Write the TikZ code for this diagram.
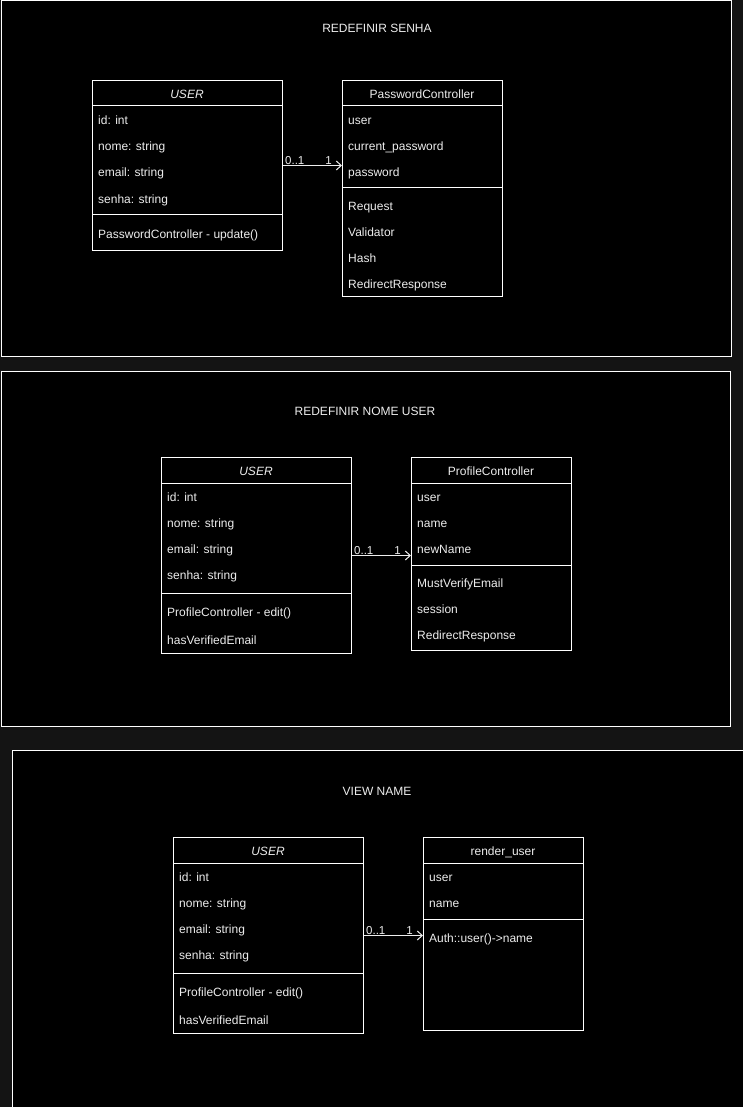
\documentclass[tikz,border=0pt]{standalone}
\usepackage{fontspec}
\setmainfont{Liberation Sans}
\usetikzlibrary{arrows.meta}
\definecolor{pagebg}{HTML}{141414}
\definecolor{ink}{HTML}{EDEDED}
\tikzset{
  panel/.style={draw=white, fill=black, line width=1pt},
  classbox/.style={draw=white, fill=black, line width=1pt, anchor=north west, inner sep=0pt},
  rule/.style={draw=white, line width=1pt},
  title/.style={text=ink, font=\fontsize{12}{14}\selectfont, inner sep=0pt},
  cname/.style={text=ink, font=\fontsize{12}{14}\selectfont, inner sep=0pt, text height=8.6pt, text depth=0pt, yshift=-0.8pt},
  attr/.style={text=ink, font=\fontsize{12}{14}\selectfont, anchor=west, inner sep=0pt, text height=8.6pt, text depth=0pt, yshift=-0.8pt},
  mult/.style={text=ink, font=\fontsize{11.5}{13}\selectfont, inner sep=0pt},
  assoc/.style={draw=ink, line width=1pt, -{Straight Barb[length=5pt,width=9pt]}},
}
\begin{document}
\begin{tikzpicture}[x=1pt,y=-1pt]
\useasboundingbox (0,0) rectangle (743,1107);
\fill[pagebg] (0,0) rectangle (743,1107);

% ---------- panels ----------
\draw[panel] (1,1) rectangle (731,356);
\draw[panel] (1,371) rectangle (730,726);
\draw[panel] (12,750) rectangle (745,1112);

% ================= REDEFINIR SENHA =================
\node[title] (t1) at (377,28) {REDEFINIR SENHA};

\node[classbox, minimum width=190pt, minimum height=170pt] (u1) at (92,80) {};
\draw[rule] (u1.north west) ++(0,26) -- ++(190,0);
\draw[rule] (u1.north west) ++(0,135) -- ++(190,0);
\node[cname] (u1n) at (187,93) {\itshape USER};
\node[attr] (u1a) at (98,119) {id: int};
\node[attr] (u1b) at (98,145) {nome: string};
\node[attr] (u1c) at (98,171) {email: string};
\node[attr] (u1d) at (98,198) {senha: string};
\node[attr] (u1m) at (98,233) {PasswordController - update()};

\node[classbox, minimum width=160pt, minimum height=216pt] (p1) at (342,80) {};
\draw[rule] (p1.north west) ++(0,26) -- ++(160,0);
\draw[rule] (p1.north west) ++(0,108) -- ++(160,0);
\node[cname] (p1n) at (422,93) {PasswordController};
\node[attr] (p1a) at (348,119) {user};
\node[attr] (p1b) at (348,145) {current\_password};
\node[attr] (p1c) at (348,171) {password};
\node[attr] (p1d) at (348,205) {Request};
\node[attr] (p1e) at (348,231) {Validator};
\node[attr] (p1f) at (348,257) {Hash};
\node[attr] (p1g) at (348,283) {RedirectResponse};

\draw[assoc] (u1.east) -- (u1.east -| p1.west);
\node[mult, anchor=south west] (m1a) at ([shift={(2,-1)}]u1.east) {0..1};
\node[mult, anchor=south east] (m1b) at ([shift={(-10,-1)}]u1.east -| p1.west) {1};

% ================= REDEFINIR NOME USER =================
\node[title] (t2) at (365,411) {REDEFINIR NOME USER};

\node[classbox, minimum width=190pt, minimum height=196pt] (u2) at (161,457) {};
\draw[rule] (u2.north west) ++(0,26) -- ++(190,0);
\draw[rule] (u2.north west) ++(0,136) -- ++(190,0);
\node[cname] (u2n) at (256,470) {\itshape USER};
\node[attr] (u2a) at (167,496) {id: int};
\node[attr] (u2b) at (167,522) {nome: string};
\node[attr] (u2c) at (167,548) {email: string};
\node[attr] (u2d) at (167,574) {senha: string};
\node[attr] (u2m) at (167,611) {ProfileController - edit()};
\node[attr] (u2k) at (167,639) {hasVerifiedEmail};

\node[classbox, minimum width=160pt, minimum height=193pt] (p2) at (411,457) {};
\draw[rule] (p2.north west) ++(0,26) -- ++(160,0);
\draw[rule] (p2.north west) ++(0,108) -- ++(160,0);
\node[cname] (p2n) at (491,470) {ProfileController};
\node[attr] (p2a) at (417,496) {user};
\node[attr] (p2b) at (417,522) {name};
\node[attr] (p2c) at (417,548) {newName};
\node[attr] (p2d) at (417,582) {MustVerifyEmail};
\node[attr] (p2e) at (417,608) {session};
\node[attr] (p2f) at (417,634) {RedirectResponse};

\draw[assoc] (u2.east) -- (u2.east -| p2.west);
\node[mult, anchor=south west] (m2a) at ([shift={(2,-1)}]u2.east) {0..1};
\node[mult, anchor=south east] (m2b) at ([shift={(-10,-1)}]u2.east -| p2.west) {1};

% ================= VIEW NAME =================
\node[title] (t3) at (377,791) {VIEW NAME};

\node[classbox, minimum width=190pt, minimum height=196pt] (u3) at (173,837) {};
\draw[rule] (u3.north west) ++(0,26) -- ++(190,0);
\draw[rule] (u3.north west) ++(0,136) -- ++(190,0);
\node[cname] (u3n) at (268,850) {\itshape USER};
\node[attr] (u3a) at (179,876) {id: int};
\node[attr] (u3b) at (179,902) {nome: string};
\node[attr] (u3c) at (179,928) {email: string};
\node[attr] (u3d) at (179,954) {senha: string};
\node[attr] (u3m) at (179,991) {ProfileController - edit()};
\node[attr] (u3k) at (179,1019) {hasVerifiedEmail};

\node[classbox, minimum width=160pt, minimum height=193pt] (r3) at (423,837) {};
\draw[rule] (r3.north west) ++(0,26) -- ++(160,0);
\draw[rule] (r3.north west) ++(0,82) -- ++(160,0);
\node[cname] (r3n) at (503,850) {render\_user};
\node[attr] (r3a) at (429,876) {user};
\node[attr] (r3b) at (429,902) {name};
\node[attr] (r3m) at (429,937) {Auth::user()->name};

\draw[assoc] (u3.east) -- (u3.east -| r3.west);
\node[mult, anchor=south west] (m3a) at ([shift={(2,-1)}]u3.east) {0..1};
\node[mult, anchor=south east] (m3b) at ([shift={(-10,-1)}]u3.east -| r3.west) {1};
\end{tikzpicture}
\end{document}
